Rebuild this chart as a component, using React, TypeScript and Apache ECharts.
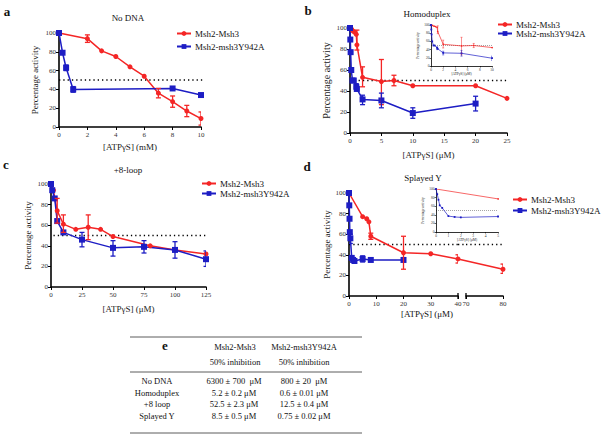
import React, { useEffect, useRef } from "react";
import * as echarts from "echarts";

const RED = "#f42626";
const BLUE = "#1d1dc4";
const FONT = "Liberation Serif";
const S1 = "Msh2-Msh3";
const S2 = "Msh2-msh3Y942A";

// Panel a: No DNA (mM)
const aRed = [[0, 100], [2, 94], [3, 81], [4, 75], [5, 64], [6, 54], [7, 36], [8, 27], [9, 17], [10, 9]];
const aBlue = [[0, 100], [0.25, 79], [0.5, 63], [1, 40], [8, 41], [10, 34]];
const aRedErr = [[2, 90, 98], [7, 31, 41], [8, 21, 33], [9, 11, 23], [10, 2, 16]];
const aBlueErr = [[0.5, 60, 66], [1, 37, 43]];
const aThreshold = [[0, 50], [10.8, 50]];

// Panel b: Homoduplex (uM)
const bRed = [[0, 100], [0.25, 99], [0.5, 97], [0.75, 96], [1, 94], [1.1, 84], [2, 53], [5, 49], [7, 50], [10, 45], [20, 45], [25, 33]];
const bBlue = [[0, 100], [0.05, 89], [0.1, 77], [0.2, 60], [0.4, 50], [0.6, 50], [1, 44], [1.1, 42], [2, 32], [5, 31], [10, 19], [20, 28]];
const bRedErr = [[1.1, 79, 98], [2, 44, 63], [5, 27, 70], [7, 45, 55]];
const bBlueErr = [[1, 40, 47], [2, 27, 36], [5, 24, 38], [10, 14, 24], [20, 21, 35]];
const bThreshold = [[0, 50], [25, 50]];

// Panel c: +8-loop (uM)
const cRed = [[0, 100], [2, 94], [3, 86], [5, 74], [10, 61], [20, 56], [30, 58], [40, 56], [50, 49], [80, 40], [100, 36], [125, 32]];
const cBlue = [[0, 100], [1, 94], [3, 86], [5, 64], [10, 53], [25, 46], [50, 38], [75, 39], [100, 36], [125, 27]];
const cRedErr = [[5, 62, 86], [10, 53, 70], [30, 46, 70]];
const cBlueErr = [[25, 39, 53], [50, 30, 45], [75, 33, 45], [100, 28, 44], [125, 20, 35]];
const cThreshold = [[2, 50], [125, 50]];

// Panel d: Splayed Y (uM), broken axis 0-40 | 70-80
const dRed = [[0, 100], [5, 77], [6.5, 75], [7.3, 72], [8, 58], [20, 42], [30, 41], [40, 36], [80, 26]];
const dBlue = [[0, 100], [0.1, 88], [0.2, 75], [0.3, 62], [0.5, 56], [1, 37], [1.5, 35], [2, 34], [5, 36], [8, 35], [20, 35]];
const dRedErr = [[8, 55, 61], [20, 26, 58], [40, 32, 40], [80, 22, 31]];
const dBlueErr = [[0.5, 51, 60], [5, 33, 39]];
const dThreshold = [[0, 50], [80, 50]];

// Panel e: table
const tableHeader1 = [S1, S2];
const tableHeader2 = ["50% inhibition", "50% inhibition"];
const tableRows = ["No DNA", "Homoduplex", "+8 loop", "Splayed Y"];
const tableCol1 = ["6300 ± 700  μM", "5.2 ± 0.2 μM", "52.5 ± 2.3 μM", "8.5 ± 0.5 μM"];
const tableCol2 = ["800 ± 20  μM", "0.6 ± 0.01 μM", "12.5 ± 0.4 μM", "0.75 ± 0.02 μM"];

function lineS(name: string, data: number[][], ax: number, color: string, symbol: string, size: number, width = 1.5) {
  return {
    type: "line", name, data, xAxisIndex: ax, yAxisIndex: ax, symbol, symbolSize: size,
    itemStyle: { color }, lineStyle: { color, width }, clip: true, z: 3,
  };
}

function errS(data: number[][], ax: number, color: string, w = 2.5, lw = 1.3) {
  return {
    type: "custom", xAxisIndex: ax, yAxisIndex: ax, data, clip: true, silent: true, z: 4,
    encode: { x: 0, y: [1, 2] },
    renderItem: (_p: any, api: any) => {
      const x = api.value(0);
      const a = api.coord([x, api.value(1)]);
      const b = api.coord([x, api.value(2)]);
      const st = { stroke: color, lineWidth: lw };
      return {
        type: "group",
        children: [
          { type: "line", shape: { x1: a[0], y1: a[1], x2: b[0], y2: b[1] }, style: st },
          { type: "line", shape: { x1: a[0] - w, y1: a[1], x2: a[0] + w, y2: a[1] }, style: st },
          { type: "line", shape: { x1: b[0] - w, y1: b[1], x2: b[0] + w, y2: b[1] }, style: st },
        ],
      };
    },
  };
}

function dotS(data: number[][], ax: number, width = 1.3, dash = [1.3, 3]) {
  return {
    type: "line", data, xAxisIndex: ax, yAxisIndex: ax, symbol: "none", silent: true, clip: false, z: 2,
    lineStyle: { color: "#000", width, type: dash },
  };
}

function xAx(gi: number, min: number, max: number, interval: number, extra: any = {}, small = false) {
  return {
    gridIndex: gi, type: "value", min, max, interval,
    axisLine: { show: true, onZero: false, lineStyle: { color: "#000", width: small ? 0.8 : 1.6 } },
    axisTick: { show: true, length: small ? 1.5 : 3, lineStyle: { color: "#000", width: small ? 0.6 : 1 } },
    axisLabel: { fontSize: small ? 3.5 : 7, color: "#333", fontFamily: FONT, margin: small ? 1.5 : 4 },
    splitLine: { show: false },
    nameLocation: "middle",
    nameTextStyle: { fontSize: small ? 3.5 : 9, fontFamily: FONT, color: "#222" },
    ...extra,
  };
}

function yAx(gi: number, extra: any = {}, small = false) {
  return {
    gridIndex: gi, type: "value", min: 0, max: 100, interval: 20,
    axisLine: { show: true, onZero: false, lineStyle: { color: "#000", width: small ? 0.8 : 1.6 } },
    axisTick: { show: true, length: small ? 1.5 : 3, lineStyle: { color: "#000", width: small ? 0.6 : 1 } },
    axisLabel: { fontSize: small ? 3.5 : 7, color: "#333", fontFamily: FONT, margin: small ? 1.5 : 3 },
    splitLine: { show: false },
    nameLocation: "middle",
    nameTextStyle: { fontSize: small ? 3.5 : 9, fontFamily: FONT, color: "#222" },
    ...extra,
  };
}

function txt(text: string, x: number, y: number, size: number, extra: any = {}) {
  return {
    type: "text", x, y, silent: true,
    style: {
      text, fontSize: size, fontFamily: FONT, fill: "#111",
      textAlign: "center", textVerticalAlign: "middle", align: "center", verticalAlign: "middle",
      ...extra,
    },
  };
}

function hline(x1: number, x2: number, y: number) {
  return { type: "line", silent: true, shape: { x1, y1: y, x2, y2: y }, style: { stroke: "#333", lineWidth: 0.8 } };
}

function legendAt(left: number, top: number, gap: number, size: number) {
  return {
    left, top, orient: "vertical", itemGap: gap, itemWidth: 14, itemHeight: 6,
    data: [S1, S2], selectedMode: false,
    textStyle: { fontSize: size, fontFamily: FONT, color: "#111", padding: [0, 0, 0, -1] },
    padding: 0,
  };
}

export default function App() {
  const ref = useRef<HTMLDivElement>(null);
  useEffect(() => {
    if (!ref.current) return;
    const chart = echarts.init(ref.current, null, { renderer: "svg" });

    const dRed1 = dRed.filter((p) => p[0] <= 40);
    const dRed2 = dRed.filter((p) => p[0] >= 70);

    const baseGraphic: any[] = [
      txt("a", 7, 11, 13, { fontWeight: "bold" }),
      txt("b", 308, 10, 13, { fontWeight: "bold" }),
      txt("c", 6, 164, 13, { fontWeight: "bold" }),
      txt("d", 307, 166, 13, { fontWeight: "bold" }),
      txt("e", 165, 345, 13, { fontWeight: "bold" }),
      txt("No DNA", 128, 18, 9),
      txt("Homoduplex", 427, 14, 9),
      txt("+8-loop", 128, 170, 9),
      txt("Splayed Y", 423, 178, 9),
      txt("[ATPγS] (μM)", 427, 314, 9),
      // table
      hline(130, 362, 337),
      hline(130, 362, 372),
      hline(130, 362, 433),
      txt(tableHeader1[0], 235, 347, 8.5),
      txt(tableHeader1[1], 304, 347, 8.5),
      txt(tableHeader2[0], 235, 362, 8.5),
      txt(tableHeader2[1], 304, 362, 8.5),
      ...tableRows.map((t, i) => txt(t, 157, 381 + i * 11.5, 8.5)),
      ...tableCol1.map((t, i) => txt(t, 234, 381 + i * 11.5, 8.5)),
      ...tableCol2.map((t, i) => txt(t, 304, 381 + i * 11.5, 8.5)),
    ];

    const option: any = {
      animation: false,
      backgroundColor: "#fff",
      grid: [
        { left: 59, top: 33, width: 142, height: 94 },
        { left: 350, top: 28, width: 157, height: 105 },
        { left: 431, top: 25, width: 61, height: 41 },
        { left: 51, top: 184, width: 155, height: 103 },
        { left: 349, top: 193, width: 109, height: 103 },
        { left: 466, top: 193, width: 37, height: 103 },
        { left: 436, top: 189, width: 62, height: 43 },
      ],
      xAxis: [
        xAx(0, 0, 10, 2, { name: "[ATPγS] (mM)", nameGap: 15 }),
        xAx(1, 0, 25, 5, { name: "[ATPγS] (μM)", nameGap: 17 }),
        xAx(2, 0, 10, 2, { name: "[ATPγS] (μM)", nameGap: 5 }, true),
        xAx(3, 0, 125, 25, { name: "[ATPγS] (μM)", nameGap: 17 }),
        xAx(4, 0, 40, 10),
        xAx(5, 70, 80, 10),
        xAx(6, 0, 5, 1, { name: "[ATPγS] (μM)", nameGap: 5 }, true),
      ],
      yAxis: [
        yAx(0, { name: "Percentage activity", nameGap: 20 }),
        yAx(1, { name: "Percentage activity", nameGap: 19, nameTextStyle: { fontSize: 10, fontFamily: FONT, color: "#222" } }),
        yAx(2, { name: "Percentage activity", nameGap: 7 }, true),
        yAx(3, { name: "Percentage activity", nameGap: 19 }),
        yAx(4, { name: "Percentage activity", nameGap: 17 }),
        yAx(5, { show: false }),
        yAx(6, { name: "Percentage activity", nameGap: 7 }, true),
      ],
      legend: [
        legendAt(176, 29, 4, 9),
        legendAt(497, 20, 0, 9),
        legendAt(201, 179, 1, 9),
        legendAt(512, 195, 2, 9),
      ],
      series: [
        // a
        dotS(aThreshold, 0),
        lineS(S1, aRed, 0, RED, "circle", 5),
        lineS(S2, aBlue, 0, BLUE, "rect", 6),
        errS(aRedErr, 0, RED),
        errS(aBlueErr, 0, BLUE),
        // b
        dotS(bThreshold, 1),
        lineS(S1, bRed, 1, RED, "circle", 5),
        lineS(S2, bBlue, 1, BLUE, "rect", 6),
        errS(bRedErr, 1, RED),
        errS(bBlueErr, 1, BLUE),
        // b inset
        dotS([[0, 50], [10, 50]], 2, 0.6, [0.6, 1.4]),
        lineS(S1, bRed, 2, RED, "circle", 1.5, 0.7),
        lineS(S2, bBlue, 2, BLUE, "rect", 1.8, 0.7),
        errS(bRedErr, 2, RED, 1, 0.5),
        errS(bBlueErr, 2, BLUE, 1, 0.5),
        // c
        dotS(cThreshold, 3),
        lineS(S1, cRed, 3, RED, "circle", 5),
        lineS(S2, cBlue, 3, BLUE, "rect", 6),
        errS(cRedErr, 3, RED),
        errS(cBlueErr, 3, BLUE),
        // d left
        dotS(dThreshold.map((p) => [Math.min(p[0], 40), p[1]]), 4),
        lineS(S1, dRed1, 4, RED, "circle", 5),
        lineS(S2, dBlue, 4, BLUE, "rect", 6),
        errS(dRedErr, 4, RED),
        errS(dBlueErr, 4, BLUE),
        // d right
        dotS(dThreshold.map((p) => [Math.max(p[0], 70), p[1]]), 5),
        lineS(S1, dRed2, 5, RED, "circle", 5),
        errS(dRedErr, 5, RED),
        // d inset
        dotS([[0, 50], [5, 50]], 6, 0.6, [0.6, 1.4]),
        lineS(S1, dRed, 6, RED, "circle", 1.5, 0.7),
        lineS(S2, dBlue, 6, BLUE, "rect", 1.8, 0.7),
      ],
      graphic: baseGraphic,
    };

    chart.setOption(option);

    // connect across the axis break using the library's own scales
    const last = dRed1[dRed1.length - 1];
    const first = dRed2[0];
    const p1 = chart.convertToPixel({ xAxisIndex: 4, yAxisIndex: 4 } as any, last) as number[];
    const p2 = chart.convertToPixel({ xAxisIndex: 5, yAxisIndex: 5 } as any, first) as number[];
    const t1 = chart.convertToPixel({ xAxisIndex: 4, yAxisIndex: 4 } as any, [40, 50]) as number[];
    const t2 = chart.convertToPixel({ xAxisIndex: 5, yAxisIndex: 5 } as any, [70, 50]) as number[];
    const b1 = chart.convertToPixel({ xAxisIndex: 4, yAxisIndex: 4 } as any, [40, 0]) as number[];
    const b2 = chart.convertToPixel({ xAxisIndex: 5, yAxisIndex: 5 } as any, [70, 0]) as number[];
    const extra: any[] = [];
    if (p1 && p2) {
      extra.push({ type: "line", silent: true, z: 10, shape: { x1: p1[0], y1: p1[1], x2: p2[0], y2: p2[1] }, style: { stroke: RED, lineWidth: 1.5 } });
    }
    if (t1 && t2) {
      extra.push({ type: "line", silent: true, shape: { x1: t1[0], y1: t1[1], x2: t2[0], y2: t2[1] }, style: { stroke: "#000", lineWidth: 1.3, lineDash: [1.3, 3] } });
    }
    if (b1 && b2) {
      extra.push({ type: "line", silent: true, z: 10, shape: { x1: b1[0], y1: b1[1] - 3, x2: b1[0], y2: b1[1] + 3 }, style: { stroke: "#000", lineWidth: 1.3 } });
      extra.push({ type: "line", silent: true, z: 10, shape: { x1: b2[0], y1: b2[1] - 3, x2: b2[0], y2: b2[1] + 3 }, style: { stroke: "#000", lineWidth: 1.3 } });
    }
    option.graphic = [...baseGraphic, ...extra];
    chart.setOption(option, true);

    return () => chart.dispose();
  }, []);
  return <div ref={ref} style={{ position: "fixed", left: 0, top: 0, width: 602, height: 444 }} />;
}
